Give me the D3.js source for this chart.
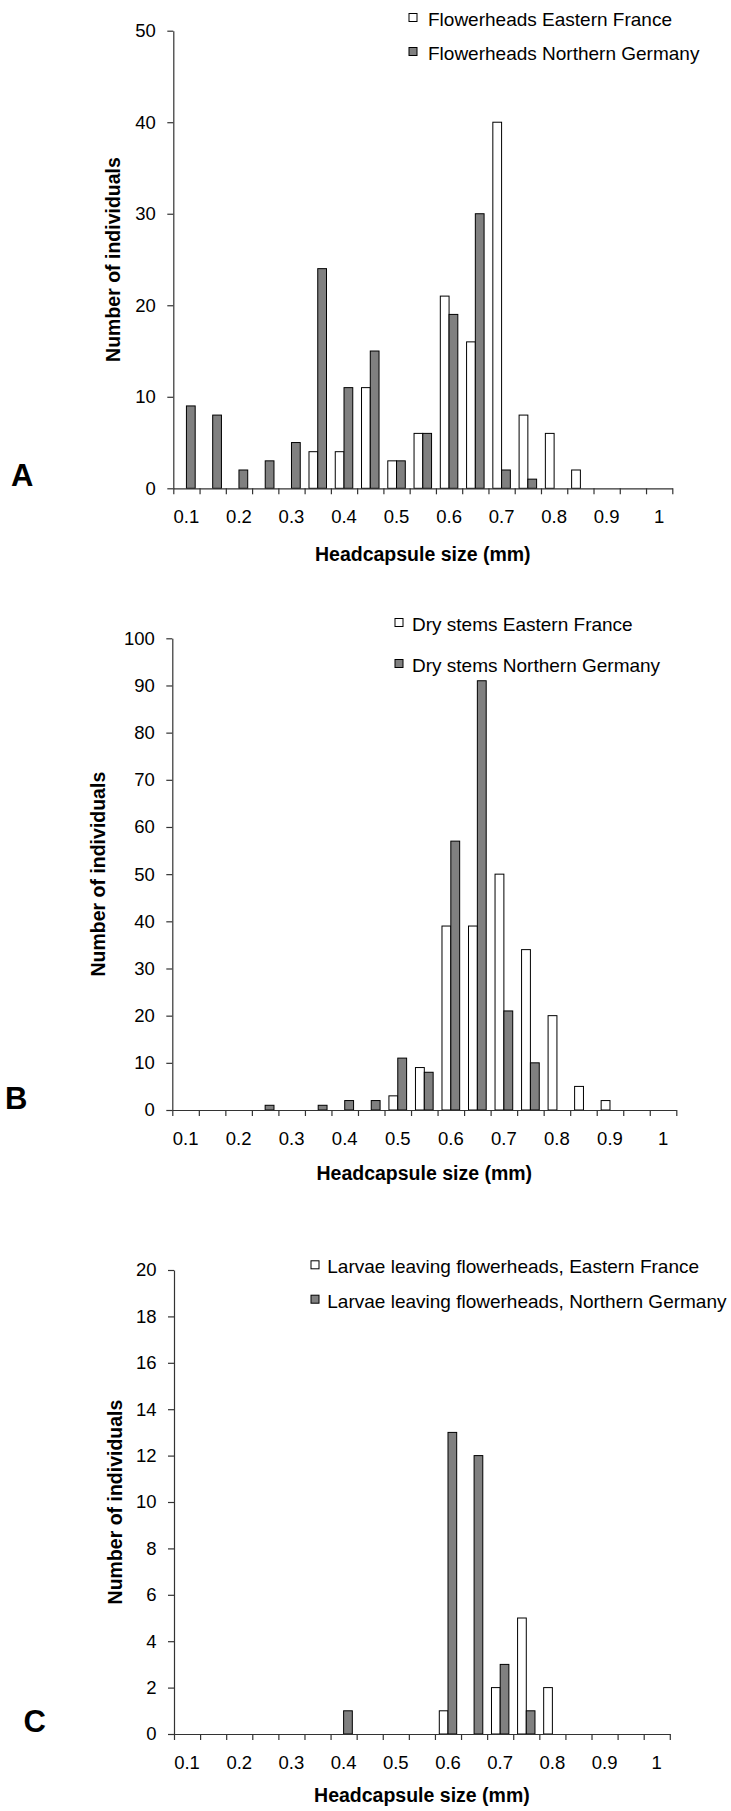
<!DOCTYPE html>
<html>
<head>
<meta charset="utf-8">
<script src="https://cdn.jsdelivr.net/npm/d3@7/dist/d3.min.js"></script>
<style>
  html, body { margin: 0; padding: 0; background: #fff; }
  svg { display: block; font-family: "Liberation Sans", Arial, sans-serif; }
</style>
</head>
<body>
<svg id="chart" width="731" height="1811"></svg>
<script>
// Headcapsule size classes (mm)
const categories = [0.1, 0.15, 0.2, 0.25, 0.3, 0.35, 0.4, 0.45, 0.5, 0.55, 0.6, 0.65, 0.7, 0.75, 0.8, 0.85, 0.9, 0.95, 1];
const tickLabels = ['0.1', '', '0.2', '', '0.3', '', '0.4', '', '0.5', '', '0.6', '', '0.7', '', '0.8', '', '0.9', '', '1'];

// A - flowerheads
const flowerFrance  = [0, 0, 0, 0, 0, 4, 4, 11, 3, 6, 21, 16, 40, 8, 6, 2, 0, 0, 0];
const flowerGermany = [9, 8, 2, 3, 5, 24, 11, 15, 3, 6, 19, 30, 2, 1, 0, 0, 0, 0, 0];
// B - dry stems
const stemsFrance  = [0, 0, 0, 0, 0, 0, 0, 0, 3, 9, 39, 39, 50, 34, 20, 5, 2, 0, 0];
const stemsGermany = [0, 0, 0, 1, 0, 1, 2, 2, 11, 8, 57, 91, 21, 10, 0, 0, 0, 0, 0];
// C - larvae leaving flowerheads
const larvaeFrance  = [0, 0, 0, 0, 0, 0, 0, 0, 0, 0, 1, 0, 2, 5, 2, 0, 0, 0, 0];
const larvaeGermany = [0, 0, 0, 0, 0, 0, 1, 0, 0, 0, 13, 12, 3, 1, 0, 0, 0, 0, 0];

const yTicksA = [0, 10, 20, 30, 40, 50];
const yTicksB = [0, 10, 20, 30, 40, 50, 60, 70, 80, 90, 100];
const yTicksC = [0, 2, 4, 6, 8, 10, 12, 14, 16, 18, 20];

const legendA = ['Flowerheads Eastern France', 'Flowerheads Northern Germany'];
const legendB = ['Dry stems Eastern France', 'Dry stems Northern Germany'];
const legendC = ['Larvae leaving flowerheads, Eastern France', 'Larvae leaving flowerheads, Northern Germany'];

const FILLS = ['#ffffff', '#808080'];
const AXIS_COLOR = '#333';
const TICK_FONT = '18.5px';
const TITLE_FONT = '19.5px';

const panels = [
  { letter: 'A', series: [flowerFrance, flowerGermany], yTicks: yTicksA, legend: legendA,
    left: 173.3, right: 672.3, top: 30.7, bottom: 488.3,
    legX: 409, legTextX: 428, legRows: [26, 60],
    letterX: 11, letterY: 485.7, yTitleX: 120, xTitleY: 560.5 },
  { letter: 'B', series: [stemsFrance, stemsGermany], yTicks: yTicksB, legend: legendB,
    left: 172.3, right: 676.3, top: 638.3, bottom: 1110,
    legX: 395, legTextX: 412, legRows: [631, 672],
    letterX: 5, letterY: 1109.3, yTitleX: 104.5, xTitleY: 1180 },
  { letter: 'C', series: [larvaeFrance, larvaeGermany], yTicks: yTicksC, legend: legendC,
    left: 174, right: 669.8, top: 1270, bottom: 1734,
    legX: 311, legTextX: 327.3, legRows: [1273.3, 1307.7],
    letterX: 23.5, letterY: 1731.5, yTitleX: 122, xTitleY: 1802 }
];

const svg = d3.select('#chart');

panels.forEach(p => {
  const g = svg.append('g');
  const yMax = p.yTicks[p.yTicks.length - 1];

  const x = d3.scaleBand().domain(d3.range(categories.length)).range([p.left, p.right]).padding(0);
  // Excel style: gap width 100% -> bars take 2/3 of the category
  const xs = d3.scaleBand().domain([0, 1])
    .range([x.bandwidth() / 6, x.bandwidth() * 5 / 6]);
  const y = d3.scaleLinear().domain([0, yMax]).range([p.bottom, p.top]);

  // Bars
  p.series.forEach((vals, s) => {
    g.append('g').selectAll('rect')
      .data(vals.map((v, i) => ({ v, i })).filter(d => d.v > 0))
      .join('rect')
      .attr('x', d => x(d.i) + xs(s))
      .attr('y', d => y(d.v))
      .attr('width', xs.bandwidth())
      .attr('height', d => y(0) - y(d.v))
      .attr('fill', FILLS[s])
      .attr('stroke', '#000')
      .attr('stroke-width', 1);
  });

  // Y axis
  const yAxis = g.append('g')
    .attr('transform', `translate(${p.left},0)`)
    .call(d3.axisLeft(y).tickValues(p.yTicks).tickSize(6).tickPadding(11.5).tickSizeOuter(0));
  yAxis.selectAll('text').attr('font-size', TICK_FONT).attr('fill', '#000')
    .style('font-family', '"Liberation Sans", Arial, sans-serif');

  // X axis: labels at category centres, tick marks at category boundaries
  const xAxis = g.append('g')
    .attr('transform', `translate(0,${p.bottom})`)
    .call(d3.axisBottom(x).tickSize(0).tickPadding(22).tickFormat(i => tickLabels[i]));
  xAxis.selectAll('text').attr('font-size', TICK_FONT).attr('fill', '#000')
    .style('font-family', '"Liberation Sans", Arial, sans-serif');
  const edges = d3.scaleLinear().domain([0, categories.length]).range([p.left, p.right]);
  g.append('g')
    .attr('transform', `translate(0,${p.bottom})`)
    .call(d3.axisBottom(edges).tickValues(d3.range(categories.length + 1)).tickSize(6).tickFormat(''))
    .select('.domain').remove();

  g.selectAll('.domain, .tick line').attr('stroke', AXIS_COLOR).attr('stroke-width', 1.2);

  // Axis titles
  g.append('text')
    .attr('x', (p.left + p.right) / 2).attr('y', p.xTitleY)
    .attr('text-anchor', 'middle').attr('font-weight', 'bold').attr('font-size', TITLE_FONT)
    .text('Headcapsule size (mm)');
  g.append('text')
    .attr('transform', `translate(${p.yTitleX},${(p.top + p.bottom) / 2}) rotate(-90)`)
    .attr('text-anchor', 'middle').attr('font-weight', 'bold').attr('font-size', TITLE_FONT)
    .text('Number of individuals');

  // Panel letter
  g.append('text')
    .attr('x', p.letterX).attr('y', p.letterY)
    .attr('font-weight', 'bold').attr('font-size', '31px')
    .text(p.letter);

  // Legend
  p.legend.forEach((label, s) => {
    const by = p.legRows[s];
    g.append('rect')
      .attr('x', p.legX).attr('y', by - 12.5)
      .attr('width', 8).attr('height', 8)
      .attr('fill', FILLS[s]).attr('stroke', '#000').attr('stroke-width', 1);
    g.append('text')
      .attr('x', p.legTextX).attr('y', by)
      .attr('font-size', '19px')
      .text(label);
  });
});
</script>
</body>
</html>
